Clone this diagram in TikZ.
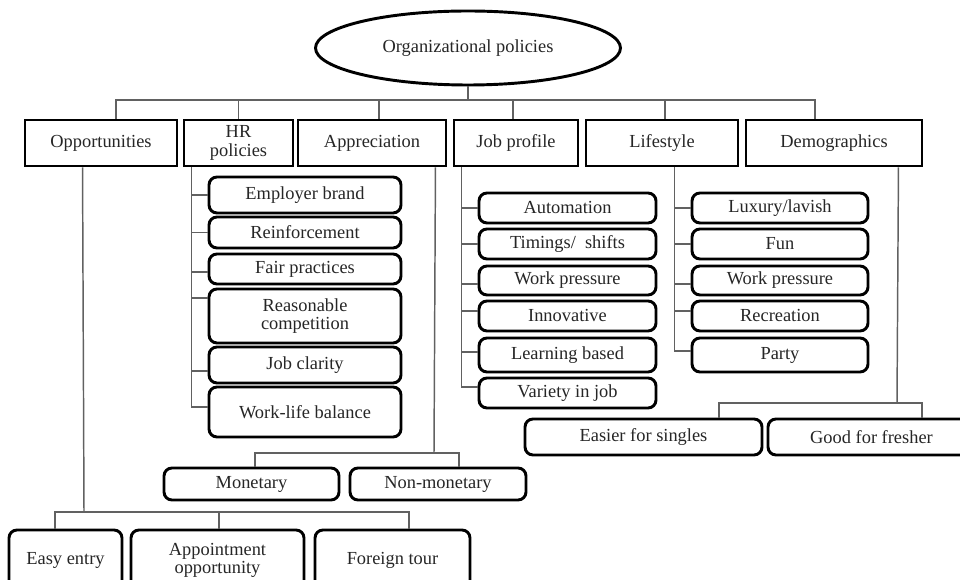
\documentclass[tikz,border=0pt]{standalone}
\usepackage{fontspec}
\setmainfont{Liberation Serif}
\usetikzlibrary{shapes.geometric}
\begin{document}
\begin{tikzpicture}[x=0.75pt,y=-0.75pt,
  every node/.style={font=\fontsize{13.8pt}{13.6pt}\selectfont, text=black!85, align=center},
  span/.style n args={4}{at={({(#1+#3)/2},{(#2+#4)/2})},
     minimum width={(#3-#1)*0.75pt}, minimum height={(#4-#2)*0.75pt}},
  sqbox/.style={draw=black, line width=2.2pt, fill=white, inner sep=0pt},
  rbox/.style={sqbox, rounded corners=6pt},
  oval/.style={ellipse, draw=black, line width=2.2pt, fill=white, inner sep=0pt},
  conn/.style={draw=black!62, line width=1.1pt}]
\useasboundingbox (0,0) rectangle (960,580);
\clip (0,0) rectangle (960,580);
\fill[white] (0,0) rectangle (960,580);

% root
\node[oval, minimum width=228.75pt, minimum height=55.5pt] (org) at (468,48) {Organizational policies};

% top level
\node[sqbox, span={25}{120}{177}{166}] (opp) {Opportunities};
\node[sqbox, span={184}{120}{293}{166}] (hr) {HR\\policies};
\node[sqbox, span={298}{120}{446}{166}] (apr) {Appreciation};
\node[sqbox, span={454}{120}{578}{166}] (job) {Job profile};
\node[sqbox, span={586}{120}{738}{166}] (life) {Lifestyle};
\node[sqbox, span={746}{120}{922}{166}] (demo) {Demographics};

% HR policies items
\node[rbox, span={209}{177}{401}{213}] (emp) {Employer brand};
\node[rbox, span={209}{217}{401}{248}] (rein) {Reinforcement};
\node[rbox, span={209}{254}{401}{284}] (fair) {Fair practices};
\node[rbox, span={209}{289}{401}{343}] (reas) {Reasonable\\competition};
\node[rbox, span={209}{347}{401}{383}] (jcl) {Job clarity};
\node[rbox, span={209}{387}{401}{437}] (wlb) {Work-life balance};

% Job profile items
\node[rbox, span={479}{193}{656}{223}] (auto) {Automation};
\node[rbox, span={479}{229}{656}{259}] (tim) {Timings/\ \ shifts};
\node[rbox, span={479}{266}{656}{295}] (wpa) {Work pressure};
\node[rbox, span={479}{301}{656}{331}] (inn) {Innovative};
\node[rbox, span={479}{338}{656}{372}] (learn) {Learning based};
\node[rbox, span={479}{378}{656}{408}] (var) {Variety in job};

% Lifestyle items
\node[rbox, span={692}{193}{868}{223}] (lux) {Luxury/lavish};
\node[rbox, span={692}{229}{868}{259}] (fun) {Fun};
\node[rbox, span={692}{266}{868}{295}] (wpb) {Work pressure};
\node[rbox, span={692}{301}{868}{331}] (rec) {Recreation};
\node[rbox, span={692}{338}{868}{372}] (party) {Party};

% Appreciation items
\node[rbox, span={164}{468}{339}{500}] (mon) {Monetary};
\node[rbox, span={350}{468}{526}{500}] (nmon) {Non-monetary};

% Demographics items
\node[rbox, span={525}{419}{762}{455}] (easier) {Easier for singles};
\node[rbox, span={768}{419}{975}{455}] (good) {Good for fresher};

% Opportunities items
\node[rbox, span={9}{530}{122}{590}] (easy) {Easy entry};
\node[rbox, span={131}{530}{304}{590}] (appt) {Appointment\\opportunity};
\node[rbox, span={315}{530}{470}{590}] (tour) {Foreign tour};

% root to top level
\coordinate (bus) at (468,100);
\draw[conn] (org.south) -- (bus);
\draw[conn] (bus) -| ([xshift=11.25pt]opp.north);
\draw[conn] (bus) -| (hr.north);
\draw[conn] (bus) -| ([xshift=5.25pt]apr.north);
\draw[conn] (bus) -| ([xshift=-2.25pt]job.north);
\draw[conn] (bus) -| ([xshift=2.25pt]life.north);
\draw[conn] (bus) -| ([xshift=-14.25pt]demo.north);

% HR policies
\coordinate (hrt) at ([xshift=6.75pt]hr.south west);
\draw[conn] (hrt) |- (emp.west);
\draw[conn] (hrt) |- (rein.west);
\draw[conn] (hrt) |- ([yshift=-2.25pt]fair.west);
\draw[conn] (hrt) |- ([yshift=13.5pt]reas.west);
\draw[conn] (hrt) |- ([yshift=-4.5pt]jcl.west);
\draw[conn] (hrt) |- ([yshift=3.75pt]wlb.west);

% Job profile
\coordinate (jbt) at ([xshift=6.75pt]job.south west);
\draw[conn] (jbt) |- (auto.west);
\draw[conn] (jbt) |- (tim.west);
\draw[conn] (jbt) |- ([yshift=-2.6pt]wpa.west);
\draw[conn] (jbt) |- ([yshift=3.75pt]inn.west);
\draw[conn] (jbt) |- ([yshift=2.25pt]learn.west);
\draw[conn] (jbt) |- ([yshift=4.5pt]var.west);

% Lifestyle
\coordinate (lft) at ([xshift=67.5pt]life.south west);
\draw[conn] (lft) |- (lux.west);
\draw[conn] (lft) |- (fun.west);
\draw[conn] (lft) |- ([yshift=-2.6pt]wpb.west);
\draw[conn] (lft) |- ([yshift=3.75pt]rec.west);
\draw[conn] (lft) |- ([yshift=3pt]party.west);

% Appreciation
\coordinate (apt) at ([xshift=-9pt]apr.south east);
\coordinate (apb) at (434,453);
\draw[conn] (apt) -- (apb);
\draw[conn] (apb) -| ([xshift=2.6pt]mon.north);
\draw[conn] (apb) -| ([xshift=15.75pt]nmon.north);

% Demographics
\coordinate (dmt) at ([xshift=-18.75pt]demo.south east);
\coordinate (dmb) at (897,403);
\draw[conn] (dmt) -- (dmb);
\draw[conn] (dmb) -| ([xshift=56.6pt]easier.north);
\draw[conn] (dmb) -| ([xshift=37.9pt]good.north);

% Opportunities
\coordinate (opt) at ([xshift=44.25pt]opp.south west);
\coordinate (opb) at (84,512);
\draw[conn] (opt) -- (opb);
\draw[conn] (opb) -| ([xshift=-7.9pt]easy.north);
\draw[conn] (opb) -| ([xshift=1.1pt]appt.north);
\draw[conn] (opb) -| ([xshift=12.4pt]tour.north);
\end{tikzpicture}
\end{document}
